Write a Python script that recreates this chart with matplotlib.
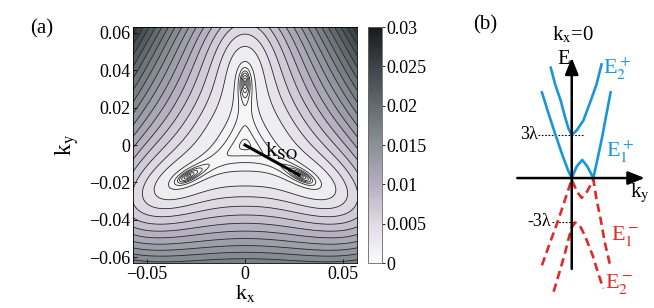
import numpy as np
import matplotlib.pyplot as plt
from matplotlib.colors import LinearSegmentedColormap

plt.rcParams['font.family'] = ['Liberation Serif', 'DejaVu Serif']
plt.rcParams['mathtext.fontset'] = 'stix'

# ---- (a) energy map of the lowest band (trigonal warping around k=0)
k_so = 0.033          # distance of the three outer Dirac points
e_scale = 2.9         # energy scale of the map
e_center = 0.0005     # small lift of the central minimum
w_center = 0.02       # width of the central region
kx_lim = (-0.057, 0.057)
ky_lim = (-0.063, 0.063)
# contour levels: fine ones for the pockets, then regular steps
fine_levels = [0.00015, 0.0003, 0.00045, 0.0006, 0.00075, 0.001]
main_levels = [0.0015, 0.003, 0.0045, 0.006, 0.0075, 0.009, 0.0105, 0.012,
               0.0135, 0.015, 0.0165, 0.018, 0.0195, 0.021, 0.0225, 0.024,
               0.0255, 0.027, 0.0285]
cbar_ticks = [0, 0.005, 0.01, 0.015, 0.02, 0.025, 0.03]
cbar_labels = ['0', '0.005', '0.01', '0.015', '0.02', '0.025', '0.03']
cmap_colors = ['#fbfbfb', '#dedbe3', '#b4afbf', '#8c9097', '#646b71', '#3d4347', '#19191b']
kso_arrow = ([0, 0.0275], [0, -0.016])

# ---- (b) schematic bands, k in units of k_SO, E in units of lambda
e2p_k = [-0.97, -0.77, -0.51, -0.31, -0.15, 0, 0.23, 0.54, 0.88, 1.15, 1.38]
e2p_E = [7.70, 6.55, 5.40, 4.26, 3.45, 3.0, 3.33, 4.02, 5.40, 6.55, 7.93]
e1p_k = [-1.38, -1.07, -0.77, -0.46, -0.15, 0, 0.23, 0.49, 0.72, 1.0, 1.15, 1.38, 1.61, 1.80]
e1p_E = [5.98, 4.48, 3.10, 1.72, 0.46, 0, 0.81, 1.26, 0.81, 0, 1.03, 2.64, 4.48, 5.98]
e1m_k = [-1.38, -1.0, -0.61, -0.31, 0, 0.23, 0.46, 0.72, 1.0, 1.15, 1.34, 1.53, 1.76]
e1m_E = [-6.09, -4.48, -2.88, -1.50, -0.1, -0.92, -1.38, -0.92, -0.1, -1.50, -2.88, -4.48, -5.98]
e2m_k = [-0.84, -0.61, -0.34, -0.15, 0, 0.15, 0.38, 0.61, 0.97, 1.23, 1.46]
e2m_E = [-7.93, -6.78, -5.40, -4.26, -3.45, -3.10, -3.33, -4.02, -5.40, -6.67, -7.70]

blue = '#1996d8'
red = '#e02a2a'

fig = plt.figure(figsize=(6.54, 3.08), dpi=100)

# panel (a)
ax = fig.add_axes([0.2034, 0.1461, 0.3425, 0.7662])
kx = np.linspace(-0.065, 0.065, 651)
KX, KY = np.meshgrid(kx, kx)
z = KX + 1j * KY
r = np.abs(z)
f = np.conj(z) ** 2 - 1j * k_so * z
bump = np.exp(-(r / w_center) ** 2)
E = e_scale * np.abs(f) * (1 - 0.6 * bump) + e_center * bump

levels = fine_levels + main_levels
cmap = LinearSegmentedColormap.from_list('gw', cmap_colors)
ax.contourf(KX, KY, E, levels=[0] + levels + [0.05], cmap=cmap, vmin=0, vmax=0.03)
ax.contour(KX, KY, E, levels=levels, colors='#2a2a2a', linewidths=0.6)
ax.plot(kso_arrow[0], kso_arrow[1], color='black', lw=2.2)
ax.text(0.0185, -0.003, 'k$_{\\rm SO}$', fontsize=16, ha='center', va='center')
ax.set_xlim(kx_lim)
ax.set_ylim(ky_lim)
ax.set_xticks([-0.05, 0, 0.05])
ax.set_xticklabels(['\u22120.05', '0', '0.05'])
ax.set_yticks([-0.06, -0.04, -0.02, 0, 0.02, 0.04, 0.06])
ax.set_yticklabels(['\u22120.06', '\u22120.04', '\u22120.02', '0', '0.02', '0.04', '0.06'])
ax.tick_params(direction='in', length=3, labelsize=13, width=0.6, pad=2)
for s in ax.spines.values():
    s.set_linewidth(0.6)
ax.set_xlabel('k$_{\\rm x}$', fontsize=16, labelpad=0)
ax.set_ylabel('k$_{\\rm y}$', fontsize=17, labelpad=6)
fig.text(0.064, 0.905, '(a)', fontsize=15, ha='center', va='center')

# colorbar
cax = fig.add_axes([0.5627, 0.1461, 0.0214, 0.7662])
sm = plt.cm.ScalarMappable(cmap=cmap, norm=plt.Normalize(0, 0.03))
cb = fig.colorbar(sm, cax=cax)
cb.set_ticks(cbar_ticks)
cb.set_ticklabels(cbar_labels)
cb.ax.tick_params(labelsize=13, length=2, width=0.6, pad=1)
cb.outline.set_linewidth(0.6)
cb.outline.set_edgecolor('#666666')

# panel (b)
bx = fig.add_axes([0.7722, 0.00974, 0.2278, 0.9253])
bx.set_xlim(-3.09, 3.81)
bx.set_ylim(-8.86, 11.03)
bx.axis('off')
arrow = dict(arrowstyle='-|>,head_length=1.0,head_width=0.4', color='black', lw=1.8,
             shrinkA=0, shrinkB=0)
bx.annotate('', xy=(3.38, 0), xytext=(-2.52, 0), arrowprops=arrow)
bx.annotate('', xy=(0, 8.4), xytext=(0, -6.34), arrowprops=arrow)
bx.plot([-1.55, 0.52], [3, 3], ls=(0, (1.5, 1.5)), color='black', lw=0.8)
bx.plot([-0.93, 0.15], [-3.1, -3.1], ls=(0, (1.5, 1.5)), color='black', lw=0.8)
bx.plot(e2p_k, e2p_E, color=blue, lw=1.9)
bx.plot(e1p_k, e1p_E, color=blue, lw=1.9)
bx.plot(e1m_k, e1m_E, color=red, lw=1.9, ls=(0, (3.2, 1.8)))
bx.plot(e2m_k, e2m_E, color=red, lw=1.9, ls=(0, (3.2, 1.8)))
bx.text(-1.58, 3.05, '3\u03bb', fontsize=13, ha='right', va='center')
bx.text(-0.95, -3.05, '-3\u03bb', fontsize=13, ha='right', va='center')
bx.text(-0.36, 8.3, 'E', fontsize=15, ha='center', va='center')
bx.text(3.15, -1.1, 'k$_{\\rm y}$', fontsize=15, ha='center', va='center')
bx.text(0.06, 10.0, 'k$_{\\rm x}$=0', fontsize=15, ha='center', va='center')
bx.text(1.47, 7.6, 'E$_2^+$', fontsize=16, color=blue, ha='left', va='center')
bx.text(1.6, 1.8, 'E$_1^+$', fontsize=16, color=blue, ha='left', va='center')
bx.text(1.84, -4.05, 'E$_1^-$', fontsize=16, color=red, ha='left', va='center')
bx.text(1.53, -7.4, 'E$_2^-$', fontsize=16, color=red, ha='left', va='center')
fig.text(0.742, 0.919, '(b)', fontsize=15, ha='center', va='center')

fig.savefig('out.png', dpi=100)
